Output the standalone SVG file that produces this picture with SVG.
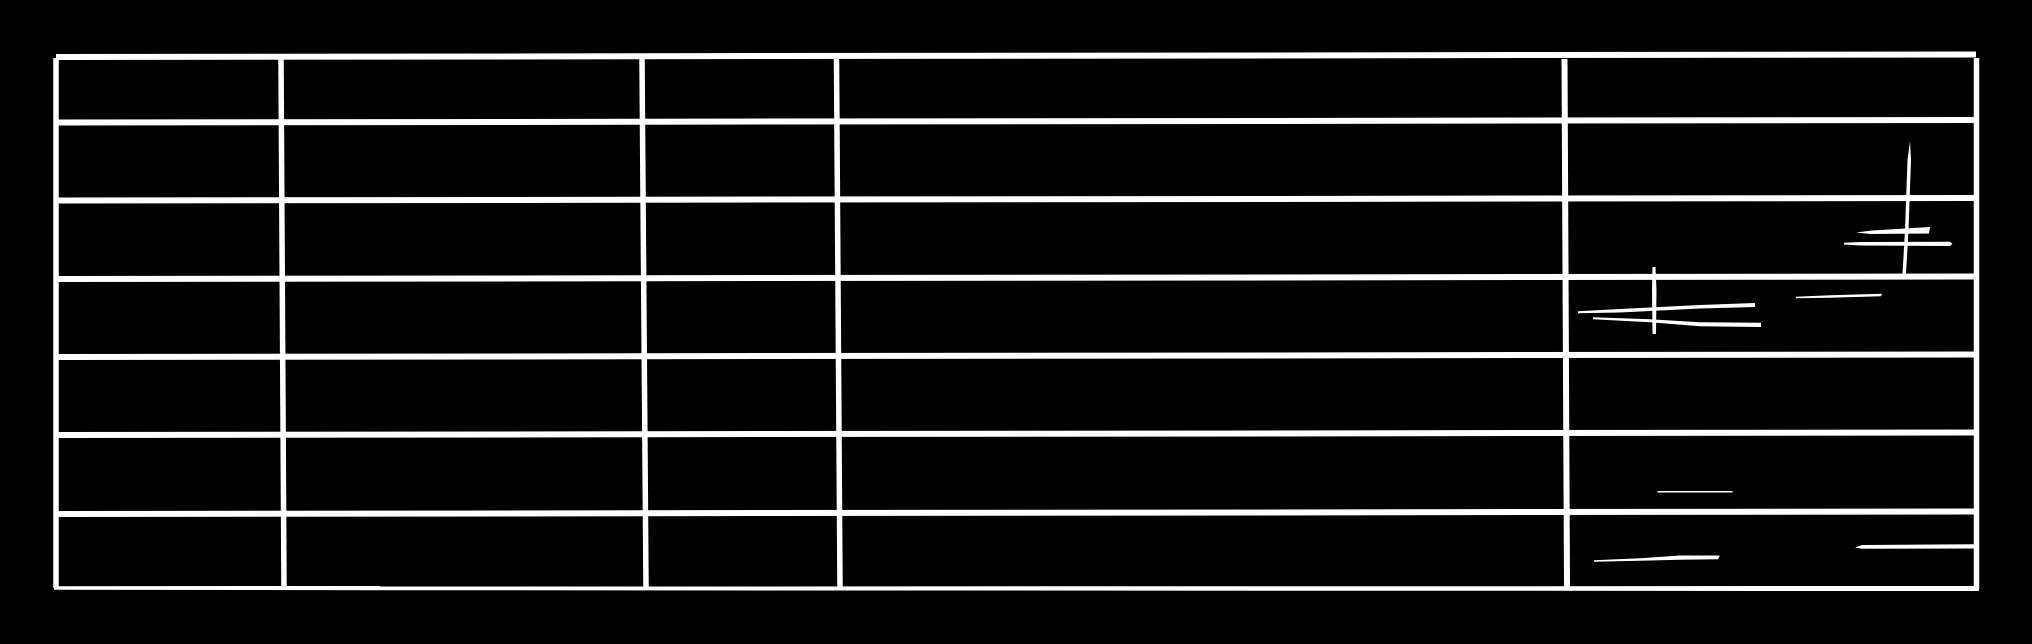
<svg xmlns="http://www.w3.org/2000/svg" width="2032" height="644" viewBox="0 0 2032 644">
  <style>
    .ln { stroke: #ffffff; fill: none; stroke-linecap: butt; }
    .h { stroke-width: 6; }
    .v { stroke-width: 5.5; }
    .mk { fill: #ffffff; stroke: none; }
    .thin { stroke: #ffffff; fill: none; stroke-linecap: round; }
  </style>
  <rect x="0" y="0" width="2032" height="644" fill="#000000"/>
  <g id="frame">
    <line class="ln" x1="56" y1="57" x2="1976" y2="54.5" stroke-width="6"/>
    <line class="ln v" x1="56" y1="58" x2="56" y2="588"/>
    <line class="ln v" x1="1976.5" y1="58" x2="1976.5" y2="589"/>
    <polygon class="mk" points="54,586.3 380,586 380,586.6 1979,586 1979,591 380,590.3 54,589.8"/>
  </g>
  <g id="rows">
    <line class="ln h" x1="58" y1="122.5" x2="1975" y2="120"/>
    <line class="ln h" x1="58" y1="200.5" x2="1975" y2="198"/>
    <line class="ln h" x1="58" y1="279" x2="1975" y2="276.5"/>
    <line class="ln h" x1="58" y1="357" x2="1975" y2="354.5"/>
    <line class="ln h" x1="58" y1="435" x2="1975" y2="432.5"/>
    <line class="ln h" x1="58" y1="514" x2="1975" y2="511.5"/>
  </g>
  <g id="columns">
    <line class="ln v" x1="281" y1="59" x2="284" y2="587"/>
    <line class="ln v" x1="642" y1="59" x2="646" y2="587"/>
    <line class="ln v" x1="836.5" y1="59" x2="840" y2="587"/>
    <line class="ln" x1="1564.5" y1="59" x2="1567" y2="587" stroke-width="6"/>
  </g>
  <g id="sketch-marks">
    <polygon class="mk" points="1910,141 1911,160 1908.5,230 1906,274 1902.5,274 1905,230 1907.5,160"/>
    <polygon class="mk" points="1856,232.5 1872,230.5 1930,227 1929,233.5 1870,234"/>
    <polygon class="mk" points="1844,242.8 1860,242 1950,241.8 1952.5,243.8 1950,246 1860,245.5 1844,244.6"/>
    <polygon class="mk" points="1655.5,267 1656.5,290 1656,334 1652.5,334 1652,290 1652.5,267"/>
    <polygon class="mk" points="1578,311.3 1620,309 1700,305 1755,303 1755,307 1700,308.5 1620,312.5 1578,313.3"/>
    <polygon class="mk" points="1593,317.3 1650,319.3 1700,322.2 1761,322.7 1761,327 1700,326.3 1650,322.3 1593,319.3"/>
    <polygon class="mk" points="1796,296.8 1830,295.2 1882,293.8 1881,296.3 1830,297.8 1796,298.2"/>
    <line class="thin" x1="1658" y1="491.7" x2="1732" y2="491.7" stroke-width="1.6"/>
    <polygon class="mk" points="1594,560.3 1640,558.2 1680,555.6 1720,555.4 1718,559.3 1680,559.8 1640,560.8 1594,561.8"/>
    <polygon class="mk" points="1855,547.5 1862,545 1974,544.3 1974,548.5 1862,548.8"/>
  </g>
</svg>
